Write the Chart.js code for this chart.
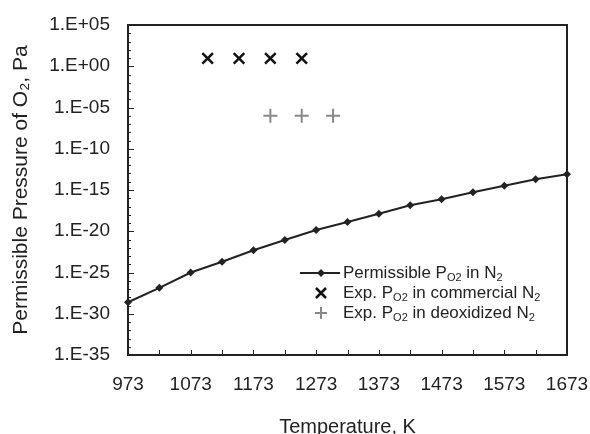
<!DOCTYPE html>
<html>
<head>
<meta charset="utf-8">
<script src="https://cdn.jsdelivr.net/npm/chart.js@4.4.1/dist/chart.umd.min.js"></script>
<style>
  body { margin: 0; background: #fff; }
  #wrap { position: relative; width: 590px; height: 434px; }
</style>
</head>
<body>
<div id="wrap"><canvas id="chart"></canvas></div>
<script>
// temperatures (K) and permissible oxygen pressure (Pa)
const temps = [973, 1023, 1073, 1123, 1173, 1223, 1273, 1323, 1373, 1423, 1473, 1523, 1573, 1623, 1673];
const permissible = [2.5e-29, 1.4e-27, 1.0e-25, 2.0e-24, 5.0e-23, 8.7e-22, 1.4e-20, 1.3e-19, 1.35e-18, 1.4e-17, 7.4e-17, 5.2e-16, 3.3e-15, 2.0e-14, 7.9e-14];

// experimental values
const commercialT = [1100, 1150, 1200, 1250];
const commercialP = [9, 9, 9, 9];
const deoxT = [1200, 1250, 1300];
const deoxP = [1e-6, 1e-6, 1e-6];

// axis ticks
const xTickValues = [973, 1073, 1173, 1273, 1373, 1473, 1573, 1673];
const yTickExps = [-35, -30, -25, -20, -15, -10, -5, 0, 5];

const FONT = '"Liberation Sans", Arial, Helvetica, sans-serif';
const INK = '#222';

function expLabel(e) {
    return '1.E' + (e < 0 ? '-' : '+') + String(Math.abs(e)).padStart(2, '0');
}

function toPoints(xs, ys) {
    return xs.map((x, i) => ({ x: x, y: ys[i] }));
}

// box round the plot and small inward tick marks
const framePlugin = {
    id: 'frame',
    afterDraw(chart) {
        const { ctx, chartArea: a } = chart;
        const xs = chart.scales.x, ys = chart.scales.y;
        ctx.save();
        ctx.strokeStyle = INK;
        ctx.lineWidth = 1;
        ctx.beginPath();
        // x ticks every 50 K
        for (let t = xTickValues[0]; t <= xTickValues[xTickValues.length - 1]; t += 50) {
            const px = Math.round(xs.getPixelForValue(t)) + 0.5;
            ctx.moveTo(px, a.bottom);
            ctx.lineTo(px, a.bottom - 5);
        }
        // y ticks every decade
        for (let e = yTickExps[0]; e <= yTickExps[yTickExps.length - 1]; e++) {
            const py = Math.round(ys.getPixelForValue(Math.pow(10, e))) + 0.5;
            const len = e % 5 === 0 ? 6 : 3;
            ctx.moveTo(a.left, py);
            ctx.lineTo(a.left + len, py);
        }
        ctx.stroke();
        ctx.lineWidth = 2;
        ctx.strokeRect(a.left, a.top, a.right - a.left, a.bottom - a.top);
        ctx.restore();
    }
};

// legend with subscripts
const legendPlugin = {
    id: 'subLegend',
    afterDraw(chart) {
        const { ctx, chartArea: a } = chart;
        const symX = a.left + 193;
        const textX = a.left + 215;
        const rows = [a.top + 248, a.top + 268, a.top + 288];
        const labels = [
            [['Permissible P', 0], ['O2', 1], [' in N', 0], ['2', 1]],
            [['Exp. P', 0], ['O2', 1], [' in commercial N', 0], ['2', 1]],
            [['Exp. P', 0], ['O2', 1], [' in deoxidized N', 0], ['2', 1]]
        ];
        ctx.save();
        // symbol 1: line with diamond
        ctx.strokeStyle = INK;
        ctx.fillStyle = INK;
        ctx.lineWidth = 2;
        ctx.beginPath();
        ctx.moveTo(symX - 21, rows[0]);
        ctx.lineTo(symX + 19, rows[0]);
        ctx.stroke();
        ctx.beginPath();
        ctx.moveTo(symX, rows[0] - 4);
        ctx.lineTo(symX + 4, rows[0]);
        ctx.lineTo(symX, rows[0] + 4);
        ctx.lineTo(symX - 4, rows[0]);
        ctx.closePath();
        ctx.fill();
        // symbol 2: x
        ctx.strokeStyle = '#111';
        ctx.lineWidth = 2.5;
        ctx.beginPath();
        ctx.moveTo(symX - 5, rows[1] - 5);
        ctx.lineTo(symX + 5, rows[1] + 5);
        ctx.moveTo(symX + 5, rows[1] - 5);
        ctx.lineTo(symX - 5, rows[1] + 5);
        ctx.stroke();
        // symbol 3: +
        ctx.strokeStyle = '#888';
        ctx.lineWidth = 2;
        ctx.beginPath();
        ctx.moveTo(symX - 6, rows[2]);
        ctx.lineTo(symX + 6, rows[2]);
        ctx.moveTo(symX, rows[2] - 6);
        ctx.lineTo(symX, rows[2] + 6);
        ctx.stroke();
        // texts
        ctx.fillStyle = INK;
        ctx.textBaseline = 'middle';
        ctx.textAlign = 'left';
        labels.forEach((parts, i) => {
            let x = textX;
            parts.forEach(([txt, sub]) => {
                ctx.font = (sub ? '11px ' : '17px ') + FONT;
                ctx.fillText(txt, x, rows[i] + (sub ? 5 : 0));
                x += ctx.measureText(txt).width;
            });
        });
        ctx.restore();
    }
};

new Chart(document.getElementById('chart'), {
    type: 'line',
    data: {
        datasets: [{
            label: 'Permissible PO2 in N2',
            data: toPoints(temps, permissible),
            borderColor: INK,
            borderWidth: 2,
            backgroundColor: INK,
            pointStyle: 'rectRot',
            pointRadius: 4,
            pointBorderWidth: 0,
            tension: 0,
            clip: false
        }, {
            label: 'Exp. PO2 in commercial N2',
            data: toPoints(commercialT, commercialP),
            showLine: false,
            borderColor: '#111',
            backgroundColor: '#111',
            pointStyle: 'crossRot',
            pointRadius: 7.5,
            pointBorderWidth: 2.5,
            clip: false
        }, {
            label: 'Exp. PO2 in deoxidized N2',
            data: toPoints(deoxT, deoxP),
            showLine: false,
            borderColor: '#888',
            backgroundColor: '#888',
            pointStyle: 'cross',
            pointRadius: 7,
            pointBorderWidth: 2,
            clip: false
        }]
    },
    options: {
        responsive: true,
        maintainAspectRatio: false,
        animation: false,
        layout: { padding: { top: 25, right: 23, left: 0, bottom: 0 } },
        plugins: {
            legend: { display: false },
            tooltip: { enabled: false }
        },
        scales: {
            x: {
                type: 'linear',
                min: 973,
                max: 1673,
                afterBuildTicks: s => { s.ticks = xTickValues.map(v => ({ value: v })); },
                afterFit: s => { s.height = 79; s.paddingLeft = 0; s.paddingRight = 0; },
                grid: { display: false, drawTicks: false },
                border: { display: false },
                ticks: {
                    padding: 18,
                    color: INK,
                    font: { family: FONT, size: 19 },
                    maxRotation: 0,
                    autoSkip: false,
                    callback: v => String(v)
                },
                title: {
                    display: true,
                    text: 'Temperature, K',
                    color: INK,
                    font: { family: FONT, size: 20, lineHeight: 0.7 },
                    padding: 0
                }
            },
            y: {
                type: 'logarithmic',
                min: 1e-35,
                max: 1e5,
                afterBuildTicks: s => { s.ticks = yTickExps.map(e => ({ value: Math.pow(10, e) })); },
                afterFit: s => { s.width = 128; s.paddingTop = 0; s.paddingBottom = 0; },
                grid: { display: false, drawTicks: false },
                border: { display: false },
                ticks: {
                    padding: 18,
                    color: INK,
                    font: { family: FONT, size: 19 },
                    autoSkip: false,
                    callback: v => expLabel(Math.round(Math.log10(v)))
                },
                title: {
                    display: true,
                    text: 'Permissible Pressure of O\u2082, Pa',
                    color: INK,
                    font: { family: FONT, size: 21 },
                    padding: { top: 9, bottom: 0 }
                }
            }
        }
    },
    plugins: [framePlugin, legendPlugin]
});
</script>
</body>
</html>
